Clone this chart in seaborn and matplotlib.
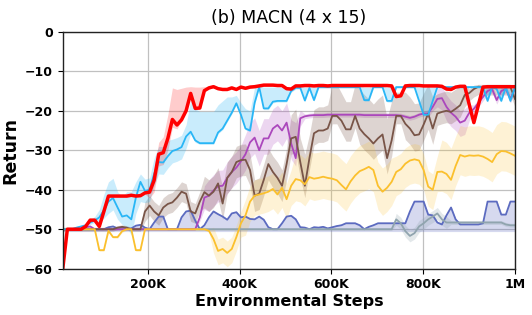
import matplotlib
matplotlib.use("Agg")
import matplotlib.pyplot as plt
import numpy as np
import seaborn as sns

# x grid: evaluation points across training
steps = np.linspace(15_000, 1_000_000, 100)

# mean curves, one value per evaluation point
red = ([-60, -50, -50, -50, -50, -49.3, -47.7, -47.7, -49.3, -45.5]
       + [-41.6, -41.6, -41.6, -41.6, -41.6, -41.4, -41.6, -41.5, -40.8, -40.6]
       + [-37.6, -31, -30.6, -27, -22.2, -23.6, -22.3, -20, -15.6, -19.4]
       + [-19.3, -14.9, -14.2, -13.9, -14.4, -14.6, -14.6, -14.2, -14.6, -14.0]
       + [-14.3, -14.0, -13.9, -13.7, -13.5, -13.5, -13.5, -13.6, -13.6, -14.4]
       + [-14.5, -13.7, -13.7, -13.6, -13.6, -13.7, -13.6, -13.6, -13.7, -13.6]
       + [-13.6] * 10
       + [-13.6, -13.6, -13.7, -16.4, -16.2, -13.7, -13.6, -13.6, -13.6, -13.7]
       + [-13.7, -13.7, -13.7, -13.8, -14.5, -14.6, -14.0, -13.8, -13.8, -18.5]
       + [-23, -18.5, -14, -13.9, -13.9, -13.9, -13.9, -13.9, -13.9, -13.9])
red_up = [0.3] * 19 + [1.5, 3, 3, 4, 6, 8, 9, 8, 6, 1.7, 5.4, 5.3, 1] + [0.3] * 68
red_dn = [0.3] * 19 + [1.5, 3, 3, 3, 3, 2, 1] + [0.3] * 74

blue = ([-50, -50, -50, -49.6, -49.3, -49, -48.3, -47.8, -47, -45.2]
        + [-43, -42.1, -44.5, -46.8, -46.5, -47.5, -42, -38, -40.3, -40]
        + [-36, -33, -33.1, -31.5, -30.2, -29.8, -29.2, -26.5, -25.3, -27.5]
        + [-28.2, -28.2, -28.2, -28.2, -25.5, -24.5, -22.5, -20.5, -18.1, -21]
        + [-24.5, -25, -18, -14, -19.4, -19.4, -17.7, -17.5, -17.5, -17.5]
        + [-15, -14.2, -14.2, -17.4, -14.2, -17.3, -14, -14, -14, -14]
        + [-14, -14, -14, -14, -14, -14, -17.3, -17.3, -14, -14]
        + [-14, -17.5, -17.5, -14, -14, -14, -14, -14, -17.5, -21]
        + [-21, -17.5, -14, -14, -14, -14, -14, -14, -14, -14]
        + [-14, -14, -14, -17.5, -14, -14.5, -17.5, -14, -17.5, -14])
blue_up = ([0.3, 0.3, 0.3, 0.3, 0.3, 0.3, 0.8, 1, 2, 4]
           + [5, 5, 4, 5, 6, 7, 4, 2, 3, 3]
           + [4, 4, 4, 4, 3, 3, 3, 3, 8, 8]
           + [8, 8, 8, 8, 7, 7, 6, 4, 2, 3]
           + [5, 5, 4, 0.3, 5.4, 5.4, 3.7, 3.5, 3.5, 3.5]
           + [1, 0.3, 0.3, 3.4, 0.3, 3.3, 0.3, 0.3, 0.3, 0.3]
           + [0.3] * 6 + [3.3, 3.3, 0.3, 0.3]
           + [0.3, 3.5, 3.5, 0.3, 0.3, 0.3, 0.3, 0.3, 3.5, 7]
           + [7, 3.5, 0.3, 0.3, 0.3, 0.3, 0.3, 0.3, 0.3, 0.3]
           + [0.3, 0.3, 0.3, 3.5, 0.3, 0.5, 3.5, 0.3, 3.5, 0.3])
blue_dn = ([0.3, 0.3, 0.3, 0.3, 0.3, 0.3, 0.5, 0.5, 1, 2]
           + [3, 3, 3, 2, 3, 4, 4, 5, 3, 3]
           + [3, 3, 3, 3, 3, 3, 3, 3, 0.5, 0.5]
           + [0.3] * 70)

purple = ([-50, -50, -50, -50, -50, -49.5, -49.3, -50, -50, -50]
          + [-50] * 20
          + [-47, -42, -41.5, -40.2, -39.1, -39, -37, -35.5, -34.4, -32.8]
          + [-31, -28, -26.8, -30, -27, -27, -24.5, -23.6, -25, -23]
          + [-28.3, -32, -21.9, -21.4, -21.2, -21.1, -21.1, -21.1, -21, -21]
          + [-21, -21, -21, -21, -21, -21, -21.1, -21.1, -21.1, -21.1]
          + [-21.1, -21.1, -21.1, -21.1, -21.2, -21.5, -21.8, -21.5, -21, -20.7]
          + [-20.7, -19, -17, -16.8, -19, -20.5, -21.5, -23, -22.5, -20.5]
          + [-19.5, -18, -16.5, -15, -14.5, -17.3, -15, -14.5, -17, -14.3])
purple_up = ([0.3] * 30 + [1, 3, 4, 4, 4, 4, 4, 4, 4, 4] + [5] * 10
             + [6, 9, 2] + [0.6] * 27
             + [1, 1, 2.5, 3, 3, 3, 3, 3, 3, 2] + [1] * 10)
purple_dn = ([0.3] * 30 + [1, 3, 4, 4, 4, 4, 4, 4, 4, 4] + [4] * 10
             + [4, 2, 2] + [0.6] * 27
             + [1, 1, 2, 3, 3.5, 3.5, 3.5, 3.5, 3.5, 2] + [1] * 10)

brown = ([-50] * 10
         + [-50, -50, -49.6, -49.4, -49.6, -50, -50, -50, -45.5, -44]
         + [-45.5, -46.5, -44.5, -43.6, -43.2, -42, -40.5, -41, -45.5, -46]
         + [-43, -40.6, -41.5, -40.5, -38.4, -43.5, -37, -35.5, -33, -32.5]
         + [-32.4, -35, -41.5, -41, -37.5, -33.5, -35.5, -37, -39, -33.5]
         + [-27, -26.6, -33, -39, -32, -25.7, -25, -25, -24.5, -21.3]
         + [-21.3, -22.5, -24.7, -24.7, -21.3, -24.5, -25.9, -27, -28.3, -27]
         + [-26, -32, -27.5, -21.3, -21.3, -23.3, -24.5, -26.2, -26, -23.5]
         + [-20.7, -24.5, -20.7, -20.3, -20, -20.3, -19.5, -18.6, -16, -15.5]
         + [-14.5, -13.9, -14, -14, -14, -14, -14, -14, -14, -17])
brown_up = ([0.5] * 18 + [2.5] * 13 + [4] * 19 + [6, 7, 6, 8] + [6] * 5
            + [8, 8] + [7, 7, 7] + [8] + [10] * 8 + [6, 6] + [8] * 7
            + [5] * 7 + [1] * 11)
brown_dn = ([0.5] * 18 + [2.5] * 13 + [4] * 19 + [4, 4, 4, 3] + [3] * 5
            + [2, 2] + [3, 3, 3] + [3] + [4] * 8 + [2, 2] + [4] * 7
            + [3] * 7 + [2] * 11)

yellow = ([-50] * 8 + [-55.3, -55.3]
          + [-50.4, -52, -52, -50.5, -50, -50, -55.3, -55.3, -50, -50]
          + [-50] * 10
          + [-50, -50, -50.4, -52.5, -55.5, -55, -56, -55, -52, -48.5]
          + [-46.5, -43, -41.5, -41.2, -40.9, -40.5, -39.8, -41.2, -39.5, -42.4]
          + [-39, -37.3, -37.6, -38.6, -36.8, -37.2, -37, -36.7, -37, -37.2]
          + [-37.6, -38.8, -39.9, -37.9, -36.4, -35.3, -34.8, -34.2, -35, -39]
          + [-40.5, -39.5, -38, -35.5, -34.8, -33.4, -32.6, -32.3, -32.6, -35]
          + [-39.2, -40, -35.5, -35.4, -36, -37.5, -34, -31.2, -31.6, -31.3]
          + [-31.4, -31.3, -31.6, -32.2, -33, -31, -30.2, -30.3, -30.8, -31.4])
yellow_up = [0.3] * 33 + [3] * 7 + [4] * 11 + [6.5] * 18 + [6] * 4 + [4] * 10 + [8] * 3 + [7.5] * 14
yellow_dn = [0.3] * 33 + [3.5] * 7 + [5] * 11 + [5.5] * 18 + [6] * 4 + [6] * 6 + [5] * 4 + [5] * 17

slate = ([-50] * 10
         + [-49.5, -49.3, -49.8, -49.6, -50, -49.8, -49.1, -48.9, -49.6, -50]
         + [-48.3, -46.8, -46.8, -50, -50, -50, -47, -45.5, -45.3, -47.8]
         + [-50, -49, -47, -45.5, -46.2, -46.8, -47.6, -46, -45.7, -47]
         + [-46.8, -47.4, -47.5, -46.8, -47.6, -49.5, -50, -50, -48.5, -46.8]
         + [-46.6, -47.5, -49.5, -49.6, -50, -49.5, -49.6, -49.4, -49.8, -49.5]
         + [-49.2, -49, -48.5, -48.5, -48.5, -49, -50, -49.4, -49, -48.5]
         + [-48.5, -48.5, -48.5, -48.5, -48.5, -48.5, -45.5, -43, -43, -43]
         + [-46.3, -46.5, -48.3, -48.8, -46.5, -44.5, -47.5, -48.8, -48.8, -48.8]
         + [-48.8, -48.8, -48.5, -43, -43, -43, -46.3, -46.3, -43, -43])
slate_hi_pad = [0.3] * 100
slate_lo = [-50.6] * 100

gray = ([-50] * 73
        + [-47.5, -48.5, -50.5, -51.7, -51, -49.3, -48.5, -47.5, -46.8, -46, -47.5, -48.3]
        + [-48.3] * 12 + [-48.8, -49, -49])
gray_up = [0.3] * 73 + [1.5] * 12 + [0.5] * 15
gray_dn = [0.3] * 73 + [1.5] * 12 + [0.5] * 15

tick_pos = [200_000, 400_000, 600_000, 800_000, 1_000_000]
tick_lbl = ["200K", "400K", "600K", "800K", "1M"]

# ---------------------------------------------------------------------------
fig = plt.figure(figsize=(5.32, 3.15), dpi=100)
ax = fig.add_axes([0.118, 0.147, 0.850, 0.752])

series = [
    (slate, None, None, "#5c6bc0", 1.3, 0.25),
    (gray, gray_up, gray_dn, "#90a4ae", 1.3, 0.25),
    (purple, purple_up, purple_dn, "#ab47bc", 1.3, 0.22),
    (brown, brown_up, brown_dn, "#795548", 1.3, 0.25),
    (yellow, yellow_up, yellow_dn, "#fbc02d", 1.3, 0.2),
    (blue, blue_up, blue_dn, "#29b6f6", 1.3, 0.25),
    (red, red_up, red_dn, "#ff0000", 2.5, 0.2),
]

for vals, up, dn, col, lw, alpha in series:
    y = np.array(vals, dtype=float)
    if up is None:
        hi = y + np.array(slate_hi_pad)
        lo = np.array(slate_lo)
    else:
        hi = np.minimum(y + np.array(up), -13.3)
        hi = np.maximum(hi, y)
        lo = y - np.array(dn)
    ax.fill_between(steps, lo, hi, color=col, alpha=alpha, linewidth=0)
    sns.lineplot(x=steps, y=y, color=col, linewidth=lw, ax=ax, estimator=None)

ax.set_xlim(steps[0], steps[-1])
ax.set_ylim(-60, 0)
ax.set_xticks(tick_pos)
ax.set_xticklabels(tick_lbl)
ax.set_yticks(range(-60, 1, 10))
ax.grid(True, color="#c0c0c0", linewidth=0.9)
ax.set_axisbelow(True)
for lab in ax.get_xticklabels() + ax.get_yticklabels():
    lab.set_fontweight("bold")
    lab.set_fontsize(9)
ax.tick_params(length=3.5, width=0.8)
for sp in ax.spines.values():
    sp.set_color("#222222")
    sp.set_linewidth(1.0)

ax.set_xlabel("Environmental Steps", fontsize=11.5, fontweight="bold", labelpad=2)
ax.set_ylabel("Return", fontsize=12.5, fontweight="bold")
ax.set_title("(b) MACN (4 x 15)", fontsize=12.5, pad=6)

fig.savefig("out.png", dpi=100)
